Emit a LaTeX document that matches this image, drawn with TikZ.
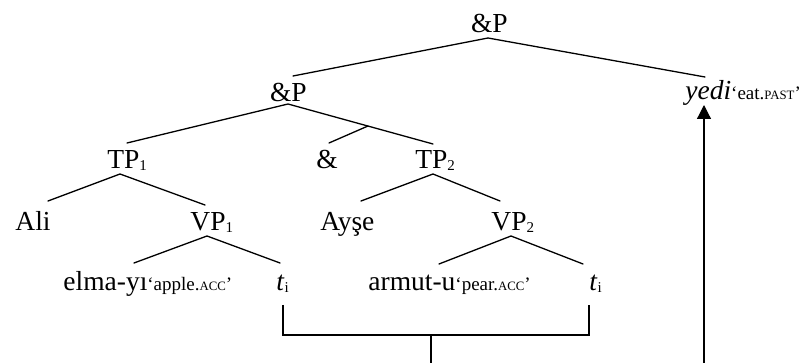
\documentclass[tikz,border=0pt]{standalone}
\usepackage{fontspec}
\setmainfont{Liberation Serif}
\usetikzlibrary{arrows.meta}
\newcommand{\mainsz}{\fontsize{13.75pt}{16pt}\selectfont}
\newcommand{\glosssz}{\fontsize{9.5pt}{11pt}\selectfont}
\newcommand{\scsz}{\fontsize{6.4pt}{7pt}\selectfont}
\newcommand{\subsz}{\fontsize{7.5pt}{9pt}\selectfont}
\newcommand{\sbs}[1]{\raisebox{-1pt}{\subsz #1}}
\newcommand{\glossof}[1]{{\glosssz #1}}
\newcommand{\fsc}[1]{{\scsz #1}}
\begin{document}
\begin{tikzpicture}[x=0.5pt,y=-0.5pt,
  lbl/.style={inner sep=0pt, anchor=base west, font=\mainsz},
  branch/.style={line width=0.65pt, line cap=round}]
\useasboundingbox (0,0) rectangle (805,363);
% text nodes
\node[lbl] (ap0) at (470.6,33) {\&P};
\node[lbl] (ap1) at (269.6,102) {\&P};
\node[lbl] (yedi) at (685,100) {\textit{yedi}\glossof{‘eat.\fsc{PAST}’}};
\node[lbl] (tp1) at (107,169) {TP\sbs{1}};
\node[lbl] (amp) at (316,169) {\&};
\node[lbl] (tp2) at (415,169) {TP\sbs{2}};
\node[lbl] (ali) at (15,231) {Ali};
\node[lbl] (vp1) at (190,231) {VP\sbs{1}};
\node[lbl] (ayse) at (320,231) {Ayşe};
\node[lbl] (vp2) at (491,231) {VP\sbs{2}};
\node[lbl] (elma) at (63,291) {elma-yı\glossof{‘apple.\fsc{ACC}’}};
\node[lbl] (ti1) at (276,291) {\textit{t}\sbs{i}};
\node[lbl] (armut) at (368,291) {armut-u\glossof{‘pear.\fsc{ACC}’}};
\node[lbl] (ti2) at (589,291) {\textit{t}\sbs{i}};
% branch points
\coordinate (ap0b) at (488,38);
\coordinate (ap1t) at (293,76);
\coordinate (yedit) at (705,77);
\coordinate (ap1b) at (288,104);
\coordinate (tp1t) at (127,143);
\coordinate (tp2t) at (433,144);
\coordinate (mid) at (368,126);
\coordinate (ampt) at (329,143);
\coordinate (tp1b) at (120,174);
\coordinate (alit) at (48,201);
\coordinate (vp1t) at (205,205);
\coordinate (tp2b) at (433,174);
\coordinate (aysat) at (361,201);
\coordinate (vp2t) at (500,201);
\coordinate (vp1b) at (207,236);
\coordinate (elmat) at (134,263);
\coordinate (ti1t) at (280,263);
\coordinate (vp2b) at (511,236);
\coordinate (armutt) at (439,264);
\coordinate (ti2t) at (583,264);
% bracket
\coordinate (bl) at (283,305);
\coordinate (bll) at (283,335);
\coordinate (br) at (589,305);
\coordinate (brl) at (589,335);
\coordinate (bm) at (431,335);
\coordinate (bmb) at (431,363);
\coordinate (arb) at (704,363);
\coordinate (art) at (704,105);
% tree lines
\draw[branch] (ap1t) -- (ap0b) -- (yedit);
\draw[branch] (tp1t) -- (ap1b) -- (tp2t);
\draw[branch] (mid) -- (ampt);
\draw[branch] (alit) -- (tp1b) -- (vp1t);
\draw[branch] (aysat) -- (tp2b) -- (vp2t);
\draw[branch] (elmat) -- (vp1b) -- (ti1t);
\draw[branch] (armutt) -- (vp2b) -- (ti2t);
\draw[branch, line cap=butt] (bl) -- (bll) -- (brl) -- (br);
\draw[branch, line cap=butt] (bm) -- (bmb);
\draw[line width=0.6pt, -{Triangle[length=7pt,width=7pt]}] (arb) -- (art);
\end{tikzpicture}
\end{document}
